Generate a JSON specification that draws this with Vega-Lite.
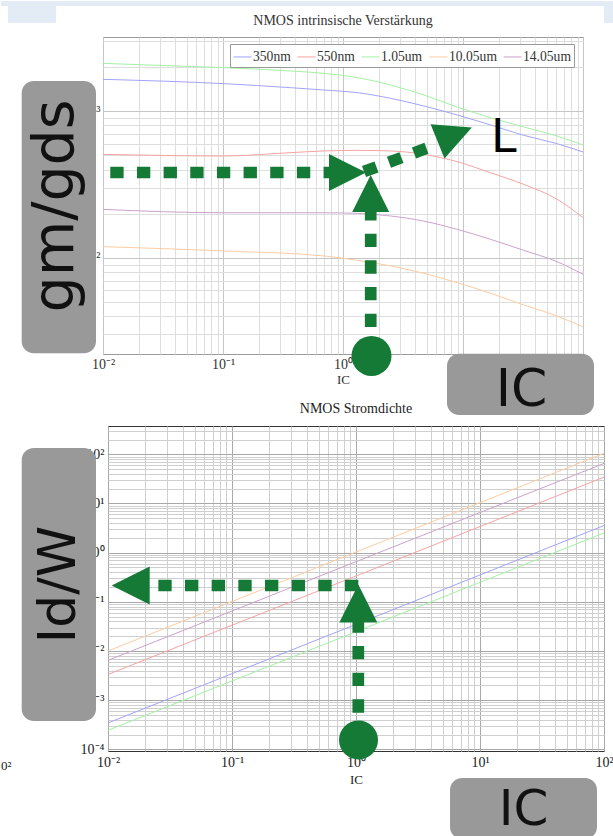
{
  "$schema": "https://vega.github.io/schema/vega-lite/v6.json",
  "background": "white",
  "padding": 0,
  "autosize": {"type": "pad"},
  "bounds": "flush",
  "spacing": 72,
  "config": {
    "font": "Liberation Serif",
    "axis": {
      "labelFont": "Liberation Serif",
      "labelFontSize": 14,
      "labelColor": "#333",
      "titleFont": "Liberation Serif",
      "titleFontSize": 13,
      "titleFontWeight": "normal",
      "titleColor": "#333",
      "domain": false,
      "ticks": false,
      "labelOverlap": false,
      "labelFlush": false,
      "gridWidth": 1
    },
    "title": {"font": "Liberation Serif", "fontSize": 14, "fontWeight": "normal", "color": "#333", "anchor": "middle", "frame": "group"}
  },
  "vconcat": [
    {
      "width": 480,
      "height": 317,
      "view": {"stroke": "#9a9a9a", "strokeWidth": 1},
      "encoding": {
        "x": {
          "field": "ic", "type": "quantitative",
          "scale": {"type": "log", "domain": [0.01, 100], "nice": false},
          "axis": {
            "title": "IC", "titlePadding": 2, "labelPadding": 3,
            "values": [0.01,0.02,0.03,0.04,0.05,0.06,0.07,0.08,0.09,0.1,0.2,0.3,0.4,0.5,0.6,0.7,0.8,0.9,1,2,3,4,5,6,7,8,9,10,20,30,40,50,60,70,80,90,100],
            "labelExpr": "datum.value === 0.01 ? '10⁻²' : datum.value === 0.1 ? '10⁻¹' : datum.value === 1 ? '10⁰' : datum.value === 10 ? '10¹' : datum.value === 100 ? '10²' : ''",
            "gridColor": {"condition": {"test": "indexof([0.01,0.1,1,10,100], datum.value) >= 0", "value": "#c6c6c6"}, "value": "#dedede"}
          }
        },
        "y": {
          "field": "val", "type": "quantitative",
          "scale": {"type": "log", "domain": [22.08, 3210], "nice": false},
          "axis": {
            "title": null, "labelPadding": 3,
            "values": [30,40,50,60,70,80,90,100,200,300,400,500,600,700,800,900,1000,2000,3000],
            "labelExpr": "datum.value === 100 ? '10²' : datum.value === 1000 ? '10³' : ''",
            "gridColor": {"condition": {"test": "indexof([100,1000], datum.value) >= 0", "value": "#c6c6c6"}, "value": "#dedede"}
          }
        }
      },
      "layer": [
        {
          "data": {"values": [
            {"ic": 0.001413, "ic2": 181.3, "val": 5224, "val2": 5651},
            {"ic": 0.001616, "ic2": 0.004057, "val": 4000, "val2": 5651},
            {"ic": 149.6, "ic2": 181.3, "val": 4000, "val2": 5651}
          ]},
          "mark": {"type": "rect", "fill": "#e3ebf5", "clip": false},
          "encoding": {"x2": {"field": "ic2"}, "y2": {"field": "val2"}}
        },
        {
          "data": {"values": [{"ic": 1, "val": 3876, "label": "NMOS intrinsische Verstärkung"}]},
          "mark": {"type": "text", "font": "Liberation Serif", "fontSize": 14, "color": "#333", "align": "center", "baseline": "alphabetic", "clip": false},
          "encoding": {"text": {"field": "label"}}
        },
        {
          "data": {"values": [
            {"series": "350nm", "ic": 0.01, "val": 1651},
            {"series": "350nm", "ic": 0.1023, "val": 1542},
            {"series": "350nm", "ic": 0.3668, "val": 1448},
            {"series": "350nm", "ic": 0.695, "val": 1396},
            {"series": "350nm", "ic": 1.316, "val": 1339},
            {"series": "350nm", "ic": 2.493, "val": 1225},
            {"series": "350nm", "ic": 4.722, "val": 1086},
            {"series": "350nm", "ic": 8.944, "val": 943},
            {"series": "350nm", "ic": 16.94, "val": 807},
            {"series": "350nm", "ic": 32.08, "val": 685},
            {"series": "350nm", "ic": 60.76, "val": 601},
            {"series": "350nm", "ic": 100, "val": 527},
            {"series": "550nm", "ic": 0.01, "val": 508},
            {"series": "550nm", "ic": 0.0287, "val": 500},
            {"series": "550nm", "ic": 0.1023, "val": 495},
            {"series": "550nm", "ic": 0.3668, "val": 522},
            {"series": "550nm", "ic": 0.695, "val": 536},
            {"series": "550nm", "ic": 1.316, "val": 541},
            {"series": "550nm", "ic": 2.493, "val": 536},
            {"series": "550nm", "ic": 4.722, "val": 508},
            {"series": "550nm", "ic": 8.944, "val": 453},
            {"series": "550nm", "ic": 16.94, "val": 381},
            {"series": "550nm", "ic": 32.08, "val": 317},
            {"series": "550nm", "ic": 60.76, "val": 251},
            {"series": "550nm", "ic": 100, "val": 188},
            {"series": "1.05um", "ic": 0.01, "val": 2122},
            {"series": "1.05um", "ic": 0.0287, "val": 2057},
            {"series": "1.05um", "ic": 0.1023, "val": 1983},
            {"series": "1.05um", "ic": 0.3668, "val": 1882},
            {"series": "1.05um", "ic": 0.695, "val": 1814},
            {"series": "1.05um", "ic": 1.316, "val": 1695},
            {"series": "1.05um", "ic": 2.493, "val": 1510},
            {"series": "1.05um", "ic": 4.722, "val": 1291},
            {"series": "1.05um", "ic": 8.944, "val": 1069},
            {"series": "1.05um", "ic": 16.94, "val": 904},
            {"series": "1.05um", "ic": 32.08, "val": 781},
            {"series": "1.05um", "ic": 60.76, "val": 678},
            {"series": "1.05um", "ic": 100, "val": 589},
            {"series": "10.05um", "ic": 0.01, "val": 119.2},
            {"series": "10.05um", "ic": 0.1023, "val": 111.4},
            {"series": "10.05um", "ic": 0.695, "val": 103},
            {"series": "10.05um", "ic": 1.316, "val": 96.2},
            {"series": "10.05um", "ic": 2.493, "val": 88.0},
            {"series": "10.05um", "ic": 4.722, "val": 78.4},
            {"series": "10.05um", "ic": 8.944, "val": 67.7},
            {"series": "10.05um", "ic": 16.94, "val": 57.3},
            {"series": "10.05um", "ic": 32.08, "val": 47.7},
            {"series": "10.05um", "ic": 60.76, "val": 40.1},
            {"series": "10.05um", "ic": 100, "val": 33.8},
            {"series": "14.05um", "ic": 0.01, "val": 214},
            {"series": "14.05um", "ic": 0.1023, "val": 203},
            {"series": "14.05um", "ic": 0.695, "val": 203},
            {"series": "14.05um", "ic": 1.316, "val": 201},
            {"series": "14.05um", "ic": 2.493, "val": 193},
            {"series": "14.05um", "ic": 4.722, "val": 178},
            {"series": "14.05um", "ic": 8.944, "val": 156.5},
            {"series": "14.05um", "ic": 16.94, "val": 133.8},
            {"series": "14.05um", "ic": 32.08, "val": 112.5},
            {"series": "14.05um", "ic": 60.76, "val": 94.2},
            {"series": "14.05um", "ic": 100, "val": 77.2}
          ]},
          "mark": {"type": "line", "strokeWidth": 1, "interpolate": "monotone"},
          "encoding": {
            "color": {
              "field": "series", "type": "nominal",
              "scale": {"domain": ["350nm", "550nm", "1.05um", "10.05um", "14.05um"], "range": ["#a3a3fa", "#f7a3a3", "#a3f2a3", "#fdcca3", "#cba3cb"]},
              "legend": {
                "title": null, "orient": "none", "legendX": 127, "legendY": 7,
                "direction": "horizontal", "columns": 5,
                "symbolType": "stroke", "symbolSize": 324, "symbolStrokeWidth": 1,
                "labelFont": "Liberation Serif", "labelFontSize": 13.6, "labelColor": "#333",
                "labelOffset": 1, "columnPadding": 4, "padding": 3,
                "strokeColor": "#9a9a9a", "fillColor": "white", "labelLimit": 200
              }
            }
          }
        },
        {
          "data": {"values": [
            {"ic": 0.002101, "ic2": 0.008742, "val": 22.33, "val2": 1609},
            {"ic": 7.356, "ic2": 123.5, "val": 8.47, "val2": 22.2}
          ]},
          "mark": {"type": "rect", "fill": "#999999", "cornerRadius": 12, "clip": false},
          "encoding": {"x2": {"field": "ic2"}, "y2": {"field": "val2"}}
        },
        {
          "data": {"values": [{"ic": 0.005623, "val": 225.8, "label": "gm/gds"}]},
          "mark": {"type": "text", "angle": 270, "font": "DejaVu Sans", "fontSize": 57, "color": "#111", "align": "center", "baseline": "alphabetic", "clip": false},
          "encoding": {"text": {"field": "label"}}
        },
        {
          "data": {"values": [{"ic": 30.73, "val": 9.759, "label": "IC"}]},
          "mark": {"type": "text", "font": "DejaVu Sans", "fontSize": 52, "color": "#111", "align": "center", "baseline": "alphabetic", "clip": false},
          "encoding": {"text": {"field": "label"}}
        },
        {
          "data": {"values": [
            {"ic": 0.0115, "val": 382.1, "ic2": 0.8913, "val2": 382.1},
            {"ic": 1.702, "val": 22.19, "ic2": 1.702, "val2": 219.9},
            {"ic": 1.496, "val": 387.6, "ic2": 6.19, "val2": 597.8}
          ]},
          "mark": {"type": "rule", "color": "#147a36", "strokeWidth": 11.7, "strokeDash": [13.33, 13.33], "strokeCap": "butt", "clip": false},
          "encoding": {"x2": {"field": "ic2"}, "y2": {"field": "val2"}}
        },
        {
          "data": {"values": [{"ic": 1.09, "val": 382.1}]},
          "mark": {"type": "point", "shape": "M-1,-1L1,0L-1,1Z", "filled": true, "size": 1369, "angle": 0, "color": "#147a36", "opacity": 1, "clip": false}
        },
        {
          "data": {"values": [{"ic": 1.702, "val": 274.8}]},
          "mark": {"type": "point", "shape": "M-1,-1L1,0L-1,1Z", "filled": true, "size": 1369, "angle": 270, "color": "#147a36", "opacity": 1, "clip": false}
        },
        {
          "data": {"values": [{"ic": 8.527, "val": 695.3}]},
          "mark": {"type": "point", "shape": "M-1,-1L1,0L-1,1Z", "filled": true, "size": 1369, "angle": 338, "color": "#147a36", "opacity": 1, "clip": false}
        },
        {
          "data": {"values": [{"ic": 1.728, "val": 21.41}]},
          "mark": {"type": "point", "shape": "circle", "filled": true, "size": 1600, "color": "#147a36", "opacity": 1, "clip": false}
        },
        {
          "data": {"values": [{"ic": 17.12, "val": 527.3, "label": "L"}]},
          "mark": {"type": "text", "font": "DejaVu Sans", "fontSize": 46, "color": "#000", "align": "left", "baseline": "alphabetic", "clip": false},
          "encoding": {"text": {"field": "label"}}
        }
      ]
    },
    {
      "bounds": "flush",
      "spacing": 0,
      "hconcat": [
        {
          "width": 5,
          "height": 325,
          "view": {"stroke": null},
          "data": {"values": []},
          "mark": "rect"
        },
        {
          "width": 496,
          "height": 325,
          "view": {"stroke": "#333", "strokeWidth": 1},
          "title": {"text": "NMOS Stromdichte", "offset": 8, "color": "#222", "frame": "group"},
          "encoding": {
            "x": {
              "field": "ic", "type": "quantitative",
              "scale": {"type": "log", "domain": [0.01, 100], "nice": false},
              "axis": {
                "title": "IC", "titlePadding": 4, "labelPadding": 4, "labelColor": "#222", "titleColor": "#222",
                "values": [0.01,0.02,0.03,0.04,0.05,0.06,0.07,0.08,0.09,0.1,0.2,0.3,0.4,0.5,0.6,0.7,0.8,0.9,1,2,3,4,5,6,7,8,9,10,20,30,40,50,60,70,80,90,100],
                "labelExpr": "datum.value === 0.01 ? '10⁻²' : datum.value === 0.1 ? '10⁻¹' : datum.value === 1 ? '10⁰' : datum.value === 10 ? '10¹' : datum.value === 100 ? '10²' : ''",
                "gridColor": {"condition": {"test": "indexof([0.01,0.1,1,10,100], datum.value) >= 0", "value": "#a8a8a8"}, "value": "#cfcfcf"}
              }
            },
            "y": {
              "field": "val", "type": "quantitative",
              "scale": {"type": "log", "domain": [0.0000925, 376.7], "nice": false},
              "axis": {
                "title": null, "labelPadding": 4, "labelColor": "#222",
                "values": [0.0001,0.0002,0.0003,0.0004,0.0005,0.0006,0.0007,0.0008,0.0009,0.001,0.002,0.003,0.004,0.005,0.006,0.007,0.008,0.009,0.01,0.02,0.03,0.04,0.05,0.06,0.07,0.08,0.09,0.1,0.2,0.3,0.4,0.5,0.6,0.7,0.8,0.9,1,2,3,4,5,6,7,8,9,10,20,30,40,50,60,70,80,90,100,200,300],
                "labelExpr": "datum.value === 0.0001 ? '10⁻⁴' : datum.value === 0.001 ? '10⁻³' : datum.value === 0.01 ? '10⁻²' : datum.value === 0.1 ? '10⁻¹' : datum.value === 1 ? '10⁰' : datum.value === 10 ? '10¹' : datum.value === 100 ? '10²' : ''",
                "gridColor": {"condition": {"test": "indexof([0.0001,0.001,0.01,0.1,1,10,100], datum.value) >= 0", "value": "#a8a8a8"}, "value": "#cfcfcf"}
              }
            }
          },
          "layer": [
            {
              "data": {"values": [
                {"series": "350nm", "ic": 0.01, "val": 0.000344},
                {"series": "350nm", "ic": 1, "val": 0.0348},
                {"series": "350nm", "ic": 100, "val": 3.56},
                {"series": "550nm", "ic": 0.01, "val": 0.00334},
                {"series": "550nm", "ic": 1, "val": 0.335},
                {"series": "550nm", "ic": 100, "val": 34.4},
                {"series": "1.05um", "ic": 0.01, "val": 0.000244},
                {"series": "1.05um", "ic": 1, "val": 0.0247},
                {"series": "1.05um", "ic": 100, "val": 2.52},
                {"series": "10.05um", "ic": 0.01, "val": 0.0100},
                {"series": "10.05um", "ic": 1, "val": 1.03},
                {"series": "10.05um", "ic": 100, "val": 105},
                {"series": "14.05um", "ic": 0.01, "val": 0.00645},
                {"series": "14.05um", "ic": 1, "val": 0.656},
                {"series": "14.05um", "ic": 100, "val": 65.4}
              ]},
              "mark": {"type": "line", "strokeWidth": 1},
              "encoding": {
                "color": {
                  "field": "series", "type": "nominal",
                  "scale": {"domain": ["350nm", "550nm", "1.05um", "10.05um", "14.05um"], "range": ["#2a2aff", "#ff2a2a", "#2ee82e", "#ff8a1e", "#8f2a8f"]},
                  "legend": {
                    "title": null, "orient": "none", "legendX": 132, "legendY": 6,
                    "direction": "horizontal", "columns": 5,
                    "symbolType": "stroke", "symbolSize": 400, "symbolStrokeWidth": 1,
                    "labelFont": "Liberation Serif", "labelFontSize": 13.6, "labelColor": "#222",
                    "labelOffset": 2, "columnPadding": 3, "padding": 3,
                    "strokeColor": "#333", "fillColor": "white", "labelLimit": 200
                  }
                }
              }
            },
            {
              "data": {"values": [
                {"ic": 0.002014, "ic2": 0.008001, "val": 0.0003771, "val2": 134.5},
                {"ic": 5.731, "ic2": 87.8, "val": 0.000001502, "val2": 0.00002614}
              ]},
              "mark": {"type": "rect", "fill": "#999999", "cornerRadius": 12, "clip": false},
              "encoding": {"x2": {"field": "ic2"}, "y2": {"field": "val2"}}
            },
            {
              "data": {"values": [{"ic": 0.004014, "val": 0.2252, "label": "Id/W"}]},
              "mark": {"type": "text", "angle": 270, "font": "DejaVu Sans", "fontSize": 52, "color": "#111", "align": "center", "baseline": "middle", "clip": false},
              "encoding": {"text": {"field": "label"}}
            },
            {
              "data": {"values": [{"ic": 22.43, "val": 0.000002925, "label": "IC"}]},
              "mark": {"type": "text", "font": "DejaVu Sans", "fontSize": 50, "color": "#111", "align": "center", "baseline": "alphabetic", "clip": false},
              "encoding": {"text": {"field": "label"}}
            },
            {
              "data": {"values": [{"ic": 0.001371, "val": 0.0000458, "label": "0²"}]},
              "mark": {"type": "text", "font": "Liberation Serif", "fontSize": 13, "color": "#222", "align": "left", "baseline": "middle", "clip": false},
              "encoding": {"text": {"field": "label"}}
            },
            {
              "data": {"values": [
                {"ic": 1.0436, "val": 0.2149, "ic2": 0.02025, "val2": 0.2149},
                {"ic": 1.0436, "val": 0.00016, "ic2": 1.0436, "val2": 0.04075}
              ]},
              "mark": {"type": "rule", "color": "#147a36", "strokeWidth": 11.7, "strokeDash": [13.33, 13.33], "strokeCap": "butt", "clip": false},
              "encoding": {"x2": {"field": "ic2"}, "y2": {"field": "val2"}}
            },
            {
              "data": {"values": [{"ic": 0.01524, "val": 0.2149}]},
              "mark": {"type": "point", "shape": "M-1,-1L1,0L-1,1Z", "filled": true, "size": 1444, "angle": 180, "color": "#147a36", "opacity": 1, "clip": false}
            },
            {
              "data": {"values": [{"ic": 1.0436, "val": 0.09247}]},
              "mark": {"type": "point", "shape": "M-1,-1L1,0L-1,1Z", "filled": true, "size": 1444, "angle": 270, "color": "#147a36", "opacity": 1, "clip": false}
            },
            {
              "data": {"values": [{"ic": 1.0476, "val": 0.0001549}]},
              "mark": {"type": "point", "shape": "circle", "filled": true, "size": 1521, "color": "#147a36", "opacity": 1, "clip": false}
            }
          ]
        }
      ]
    }
  ]
}
